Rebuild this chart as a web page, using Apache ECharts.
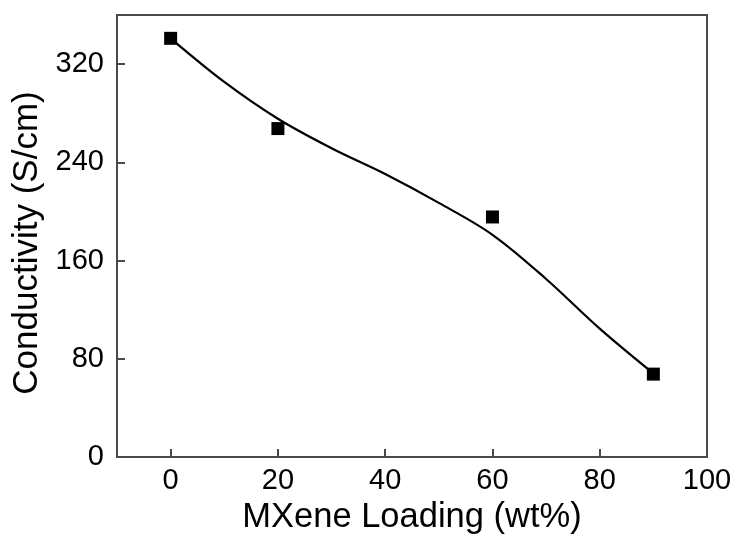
<!DOCTYPE html>
<html>
<head>
<meta charset="utf-8">
<script src="https://cdn.jsdelivr.net/npm/echarts@6/dist/echarts.min.js"></script>
<style>
  html, body { margin: 0; padding: 0; background: #fff; }
  #chart { width: 736px; height: 536px; }
</style>
</head>
<body>
<div id="chart"></div>
<script>
// Measured conductivity at each MXene loading
const loading = [0, 20, 60, 90];
const conductivity = [341, 267.5, 195.5, 67.5];

// Smoothed guide curve through the measurements
const curveX = [0, 10, 20, 30, 40, 50, 60, 70, 80, 90];
const curveY = [341, 305.5, 275.5, 251.5, 230.5, 207, 181, 145, 104.5, 68];

// Axis tick labels
const xTicks = [0, 20, 40, 60, 80, 100];
const yTicks = [0, 80, 160, 240, 320];

const axisColor = '#4a4a4a';
const font = 'Liberation Sans, Arial, Helvetica, sans-serif';

const chart = echarts.init(document.getElementById('chart'), null, { renderer: 'canvas' });

chart.setOption({
  animation: false,
  backgroundColor: '#ffffff',
  grid: {
    left: 117, right: 29, top: 15, bottom: 79,
    outerBoundsMode: 'none',
    containLabel: false,
    show: true, borderColor: axisColor, borderWidth: 2, backgroundColor: 'transparent'
  },
  xAxis: {
    type: 'value', min: -10, max: 100,
    name: 'MXene Loading (wt%)', nameLocation: 'middle', nameGap: 37,
    nameTextStyle: { fontFamily: font, fontSize: 34.5, color: '#000' },
    axisLine: { show: true, onZero: false, lineStyle: { color: axisColor, width: 2 } },
    axisTick: { show: true, inside: true, length: 8, customValues: xTicks, lineStyle: { color: axisColor, width: 2 } },
    axisLabel: { customValues: xTicks, margin: 9, fontFamily: font, fontSize: 29, color: '#000' },
    splitLine: { show: false }
  },
  yAxis: {
    type: 'value', min: 0, max: 360,
    name: 'Conductivity (S/cm)', nameLocation: 'middle', nameGap: 71, nameRotate: 90,
    nameTextStyle: { fontFamily: font, fontSize: 35, color: '#000', padding: [0, 14, 0, 0] },
    axisLine: { show: true, onZero: false, lineStyle: { color: axisColor, width: 2 } },
    axisTick: { show: true, inside: true, length: 8, customValues: yTicks, lineStyle: { color: axisColor, width: 2 } },
    axisLabel: { customValues: yTicks, margin: 13, fontFamily: font, fontSize: 29, color: '#000' },
    splitLine: { show: false }
  },
  series: [
    {
      type: 'line',
      data: curveX.map((x, i) => [x, curveY[i]]),
      smooth: 0.35,
      showSymbol: false,
      lineStyle: { color: '#000', width: 2.2 },
      z: 2
    },
    {
      type: 'scatter',
      data: loading.map((x, i) => [x, conductivity[i]]),
      symbol: 'rect',
      symbolSize: 13,
      itemStyle: { color: '#000', opacity: 1 },
      z: 3
    }
  ]
});
</script>
</body>
</html>
